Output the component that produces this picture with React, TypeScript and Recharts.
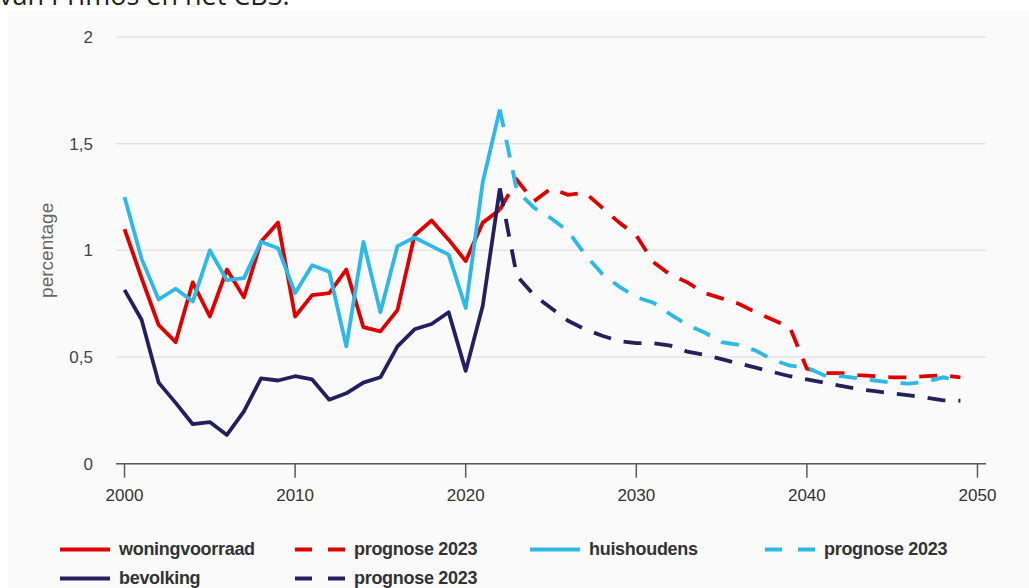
import React from 'react';
import { LineChart, Line, XAxis, YAxis, CartesianGrid, Legend } from 'recharts';

// Historische reeksen 2000-2022 en prognoses 2022-2049 (procentuele groei per jaar)
const historicalYears = [
  2000, 2001, 2002, 2003, 2004, 2005, 2006, 2007, 2008, 2009, 2010, 2011,
  2012, 2013, 2014, 2015, 2016, 2017, 2018, 2019, 2020, 2021, 2022,
];
const prognoseYears = [
  2022, 2023, 2024, 2025, 2026, 2027, 2028, 2029, 2030, 2031, 2032, 2033, 2034, 2035,
  2036, 2037, 2038, 2039, 2040, 2041, 2042, 2043, 2044, 2045, 2046, 2047, 2048, 2049,
];

const woningvoorraad = [
  1.1, 0.87, 0.65, 0.57, 0.85, 0.69, 0.91, 0.78, 1.04, 1.13, 0.69, 0.79,
  0.8, 0.91, 0.64, 0.62, 0.72, 1.07, 1.14, 1.05, 0.95, 1.13, 1.19,
];
const huishoudens = [
  1.25, 0.96, 0.77, 0.82, 0.76, 1.0, 0.86, 0.87, 1.04, 1.01, 0.8, 0.93,
  0.9, 0.55, 1.04, 0.71, 1.02, 1.06, 1.02, 0.98, 0.73, 1.32, 1.66,
];
const bevolking = [
  0.815, 0.675, 0.38, 0.285, 0.185, 0.195, 0.135, 0.245, 0.4, 0.39, 0.41, 0.395,
  0.3, 0.33, 0.38, 0.405, 0.55, 0.63, 0.655, 0.71, 0.435, 0.74, 1.29,
];

const woningPrognose = [
  1.19, 1.33, 1.23, 1.29, 1.26, 1.27, 1.2, 1.13, 1.07, 0.945, 0.885, 0.85, 0.8, 0.775,
  0.75, 0.71, 0.675, 0.64, 0.445, 0.425, 0.425, 0.415, 0.41, 0.405, 0.405, 0.41, 0.415, 0.405,
];
const huisPrognose = [
  1.66, 1.28, 1.2, 1.15, 1.09, 0.98, 0.89, 0.83, 0.78, 0.755, 0.7, 0.65, 0.615, 0.57,
  0.557, 0.53, 0.487, 0.46, 0.45, 0.415, 0.41, 0.4, 0.39, 0.38, 0.375, 0.385, 0.405, 0.385,
];
const bevPrognose = [
  1.29, 0.88, 0.79, 0.73, 0.67, 0.63, 0.6, 0.575, 0.565, 0.565, 0.553, 0.525, 0.51, 0.49,
  0.47, 0.45, 0.43, 0.41, 0.395, 0.38, 0.365, 0.35, 0.34, 0.33, 0.32, 0.31, 0.297, 0.295,
];

const xTicks = [2000, 2010, 2020, 2030, 2040, 2050];
const yTicks = [0, 0.5, 1, 1.5, 2];

const RED = '#df0000';
const CYAN = '#2cb9e6';
const NAVY = '#24205e';

const legendItems = [
  { label: 'woningvoorraad', color: RED, dashed: false },
  { label: 'prognose 2023', color: RED, dashed: true },
  { label: 'huishoudens', color: CYAN, dashed: false },
  { label: 'prognose 2023', color: CYAN, dashed: true },
  { label: 'bevolking', color: NAVY, dashed: false },
  { label: 'prognose 2023', color: NAVY, dashed: true },
];

// one row per year, empty where a series has no value
const data = Array.from(new Set([...historicalYears, ...prognoseYears])).map((year) => {
  const h = historicalYears.indexOf(year);
  const p = prognoseYears.indexOf(year);
  return {
    year,
    woning: h >= 0 ? woningvoorraad[h] : undefined,
    woningP: p >= 0 ? woningPrognose[p] : undefined,
    huis: h >= 0 ? huishoudens[h] : undefined,
    huisP: p >= 0 ? huisPrognose[p] : undefined,
    bev: h >= 0 ? bevolking[h] : undefined,
    bevP: p >= 0 ? bevPrognose[p] : undefined,
  };
});

const FONT = '"Liberation Sans", Arial, sans-serif';
const legendCols = [52, 287, 522, 757];

const CustomLegend = () => (
  <div style={{ position: 'relative', height: 58, width: 1021, fontFamily: FONT }}>
    {legendItems.map((item, i) => (
      <div
        key={i}
        style={{
          position: 'absolute',
          left: legendCols[i % 4],
          top: Math.floor(i / 4) * 29,
          height: 29,
          display: 'flex',
          alignItems: 'center',
          whiteSpace: 'nowrap',
        }}
      >
        <svg width={50} height={29}>
          <line
            x1={0}
            x2={50}
            y1={14.5}
            y2={14.5}
            stroke={item.color}
            strokeWidth={4}
            strokeDasharray={item.dashed ? '17 16' : undefined}
          />
        </svg>
        <span style={{ marginLeft: 9, fontSize: 18, fontWeight: 'bold', color: '#333', letterSpacing: -0.3 }}>
          {item.label}
        </span>
      </div>
    ))}
  </div>
);

const YLabel = (props: any) => {
  const vb = props.viewBox || { x: 0, y: 0, width: 0, height: 0 };
  const cx = vb.x + 39;
  const cy = vb.y + vb.height / 2;
  return (
    <text
      x={cx}
      y={cy}
      transform={`rotate(-90 ${cx} ${cy})`}
      textAnchor="middle"
      dominantBaseline="central"
      fill="#666"
      fontSize={19}
      fontFamily={FONT}
    >
      percentage
    </text>
  );
};

const App = () => {
  return (
    <div style={{ position: 'relative', width: 1029, height: 588, overflow: 'hidden', background: '#fff' }}>
      <style>{'html,body{margin:0;padding:0;overflow:hidden}'}</style>
      <div
        style={{
          position: 'absolute',
          left: -1,
          top: -21,
          fontFamily: '"Open Sans", sans-serif',
          fontSize: 27,
          lineHeight: '32px',
          color: '#222',
          whiteSpace: 'nowrap',
        }}
      >
        van Primos en het CBS.
      </div>
      <div
        style={{
          position: 'absolute',
          left: 8,
          top: 11,
          width: 1021,
          height: 577,
          background: '#fafafa',
          overflow: 'hidden',
        }}
      >
        <LineChart
          width={1021}
          height={600}
          data={data}
          margin={{ top: 26, right: 43, left: 0, bottom: 18.5 }}
        >
          <CartesianGrid vertical={false} stroke="#e4e4e4" strokeWidth={1.5} />
          <XAxis
            dataKey="year"
            type="number"
            domain={[1999.5, 2050.5]}
            ticks={xTicks}
            allowDataOverflow
            height={70.8}
            tickSize={14}
            tickMargin={11}
            stroke="#5a5a5a"
            strokeWidth={1.5}
            tick={{ fill: '#333', fontSize: 17, fontFamily: FONT }}
          />
          <YAxis
            domain={[0, 2]}
            ticks={yTicks}
            width={108}
            axisLine={false}
            tickLine={false}
            tickSize={0}
            tickMargin={23}
            tickFormatter={(v: number) => String(v).replace('.', ',')}
            tick={{ fill: '#444', fontSize: 17, fontFamily: FONT }}
            label={{ content: <YLabel /> }}
          />
          <Legend verticalAlign="bottom" content={<CustomLegend />} />
          <Line dataKey="woning" name="woningvoorraad" stroke={RED} strokeWidth={3.8} dot={false} activeDot={false} strokeLinejoin="round" isAnimationActive={false} />
          <Line dataKey="woningP" name="prognose 2023" stroke={RED} strokeWidth={3.8} strokeDasharray="18 13" dot={false} activeDot={false} isAnimationActive={false} />
          <Line dataKey="huis" name="huishoudens" stroke={CYAN} strokeWidth={3.8} dot={false} activeDot={false} strokeLinejoin="round" isAnimationActive={false} />
          <Line dataKey="huisP" name="prognose 2023" stroke={CYAN} strokeWidth={3.8} strokeDasharray="18 13" dot={false} activeDot={false} isAnimationActive={false} />
          <Line dataKey="bev" name="bevolking" stroke={NAVY} strokeWidth={3.8} dot={false} activeDot={false} strokeLinejoin="round" isAnimationActive={false} />
          <Line dataKey="bevP" name="prognose 2023" stroke={NAVY} strokeWidth={3.8} strokeDasharray="18 13" dot={false} activeDot={false} isAnimationActive={false} />
        </LineChart>
      </div>
    </div>
  );
};

export default App;
